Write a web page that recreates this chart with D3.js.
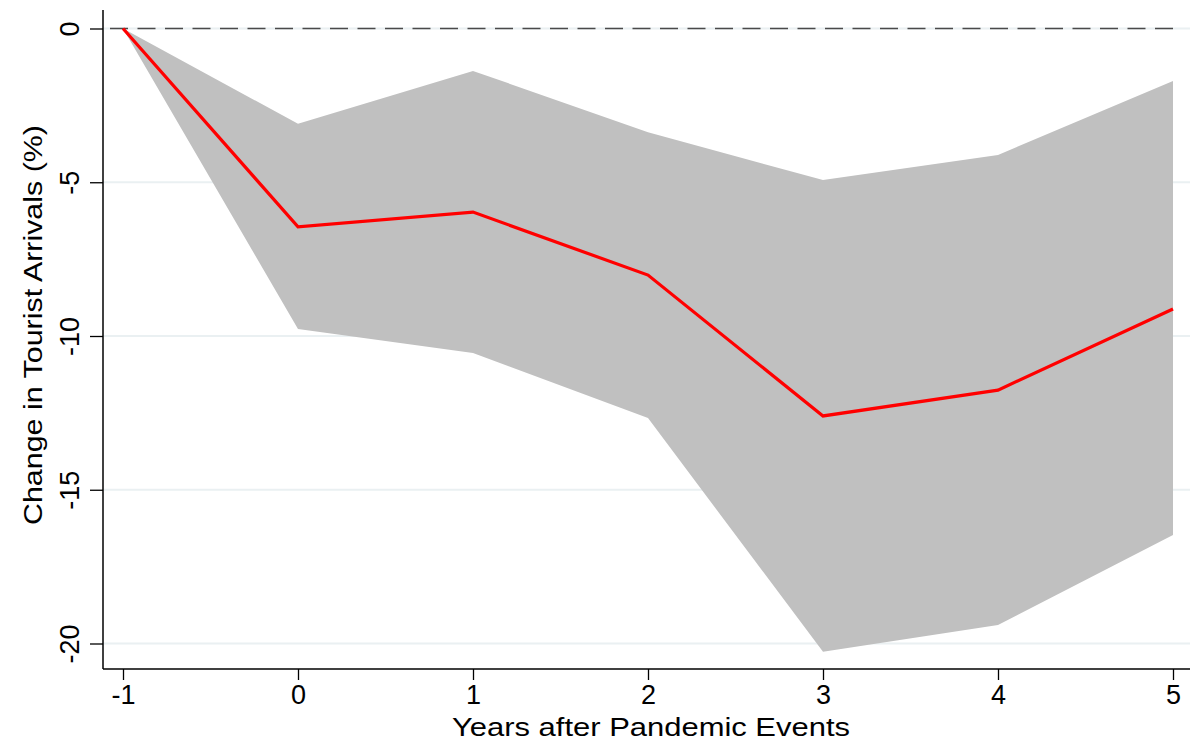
<!DOCTYPE html>
<html>
<head>
<meta charset="utf-8">
<title>tourist_arrivals_irf</title>
<script src="https://d3js.org/d3.v7.min.js"></script>
<style>
  body { margin: 0; background: #fff; }
  text { font-family: "Liberation Sans", Arial, Helvetica, sans-serif; fill: #000; }
</style>
</head>
<body>
<svg id="chart" width="1190" height="742"></svg>
<script>
// years after event
const years = [-1, 0, 1, 2, 3, 4, 5]
// point estimate (%)
const estimate = [0, -6.45, -5.97, -8.02, -12.6, -11.76, -9.12]
// confidence band
const upper = [0, -3.1, -1.38, -3.37, -4.93, -4.11, -1.71]
const lower = [0, -9.77, -10.55, -12.67, -20.27, -19.4, -16.47]
const yTicks = [0, -5, -10, -15, -20]

const svg = d3.select('#chart')

const x = d3.scaleLinear().domain([-1, 5]).range([123, 1173])
const y = d3.scaleLinear().domain([0, -20]).range([28.5, 643.5])

const axisX = 103, axisY = 669

// gridlines
svg.append('g').selectAll('line').data(yTicks)
  .enter().append('line')
  .attr('x1', axisX).attr('x2', 1190)
  .attr('y1', d => y(d)).attr('y2', d => y(d))
  .attr('stroke', '#eaf0f2').attr('stroke-width', 2)

const rows = years.map((yr, i) => ({yr: yr, est: estimate[i], hi: upper[i], lo: lower[i]}))

// band
const area = d3.area()
  .x(d => x(d.yr))
  .y0(d => y(d.lo))
  .y1(d => y(d.hi))
svg.append('path').datum(rows)
  .attr('d', area)
  .attr('fill', '#c0c0c0')

// zero reference
svg.append('line')
  .attr('x1', 110).attr('x2', 1176)
  .attr('y1', y(0)).attr('y2', y(0))
  .attr('stroke', '#4a4a4a').attr('stroke-width', 1.4)
  .attr('stroke-dasharray', '18,9.5')

// estimate line
const line = d3.line().x(d => x(d.yr)).y(d => y(d.est))
svg.append('path').datum(rows)
  .attr('d', line)
  .attr('fill', 'none')
  .attr('stroke', '#ff0000')
  .attr('stroke-width', 3.2)

const fmt = d => d < 0 ? '-' + Math.abs(d) : d

// y axis
const gy = svg.append('g').attr('transform', `translate(${axisX},0)`)
  .call(d3.axisLeft(y).tickValues(yTicks).tickSize(13).tickFormat(fmt))
gy.select('.domain').attr('d', `M0,10V${axisY}`).attr('stroke', '#000').attr('stroke-width', 1.5)
gy.selectAll('.tick line').attr('stroke', '#000').attr('stroke-width', 1.3)
gy.selectAll('.tick text')
  .attr('font-size', 27)
  .attr('transform', 'rotate(-90)')
  .attr('x', 0).attr('y', -24).attr('dy', 0)
  .attr('text-anchor', 'middle')

// x axis
const gx = svg.append('g').attr('transform', `translate(0,${axisY})`)
  .call(d3.axisBottom(x).tickValues(years).tickSize(11).tickFormat(fmt))
gx.select('.domain').attr('d', `M${axisX},0H1190`).attr('stroke', '#000').attr('stroke-width', 1.5)
gx.selectAll('.tick line').attr('stroke', '#000').attr('stroke-width', 1.3)
gx.selectAll('.tick text')
  .attr('font-size', 27)
  .attr('y', 16).attr('dy', '0.71em')

// titles
svg.append('text')
  .attr('x', 651).attr('y', 736)
  .attr('text-anchor', 'middle')
  .attr('font-size', 25)
  .attr('textLength', 398).attr('lengthAdjust', 'spacingAndGlyphs')
  .text('Years after Pandemic Events')
svg.append('text')
  .attr('transform', 'translate(42,325) rotate(-90)')
  .attr('text-anchor', 'middle')
  .attr('font-size', 25)
  .attr('textLength', 400).attr('lengthAdjust', 'spacingAndGlyphs')
  .text('Change in Tourist Arrivals (%)')
</script>
</body>
</html>
